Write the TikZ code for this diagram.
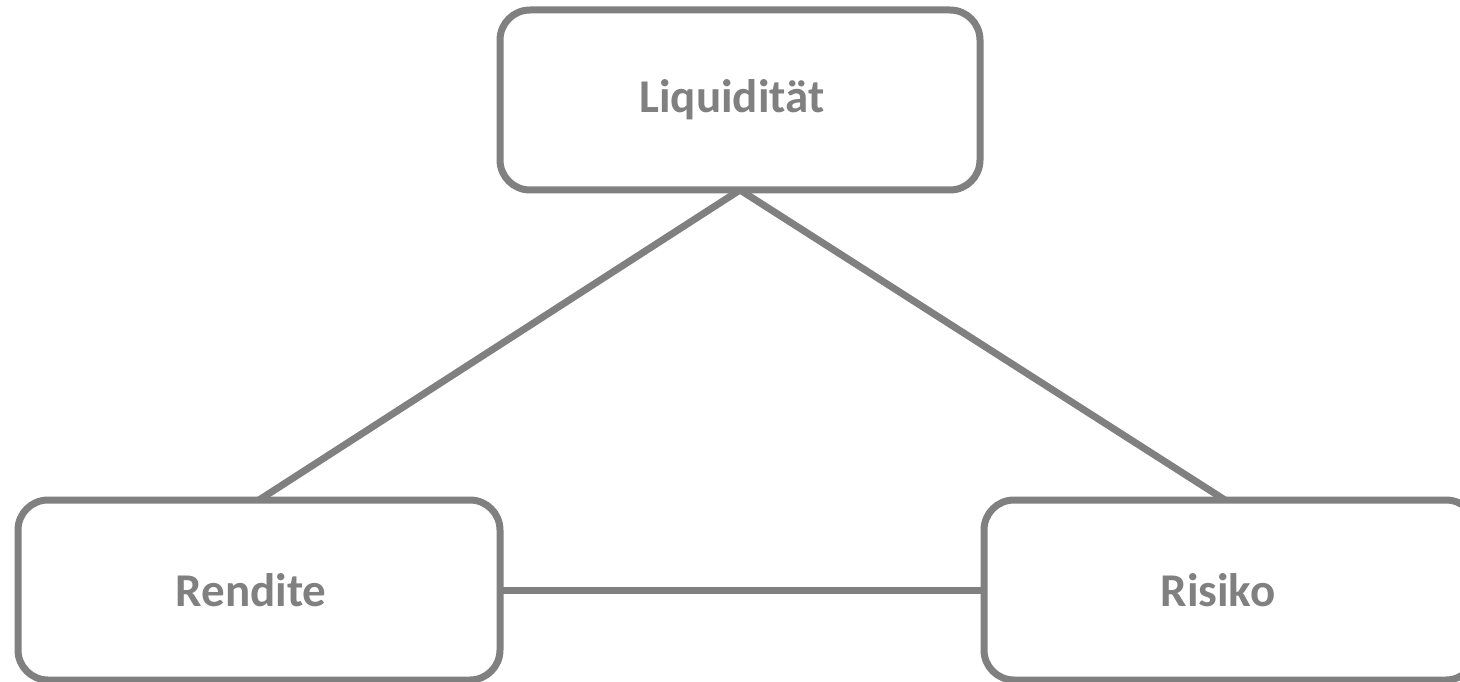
\documentclass[tikz,border=0pt]{standalone}
\usepackage{fontspec}
\setmainfont{Carlito}
\definecolor{boxgray}{RGB}{128,128,128}
\newcommand{\txtnudge}{\hspace*{-16pt}}
\begin{document}
\begin{tikzpicture}[x=1pt,y=-1pt,
  box/.style={draw=boxgray, line width=7pt, rounded corners=30pt, fill=white,
    minimum width=482pt, minimum height=180pt, inner sep=0pt, outer sep=0pt,
    text=boxgray, font=\fontsize{47}{56}\selectfont\bfseries},
  link/.style={draw=boxgray, line width=7pt}]
\useasboundingbox (0,0) rectangle (1460,682);
\node[box, minimum width=480pt] (liq) at (740,100) {\txtnudge Liquidität};
\node[box] (ren) at (259,590) {\txtnudge Rendite};
\node[box, minimum width=492pt] (ris) at (1230,590) {\hspace*{-24pt}Risiko};
\draw[link] (liq.south) -- (ren.north);
\draw[link] (liq.south) -- ([xshift=-5pt]ris.north);
\draw[link] (ren.east) -- (ris.west);
\end{tikzpicture}
\end{document}
